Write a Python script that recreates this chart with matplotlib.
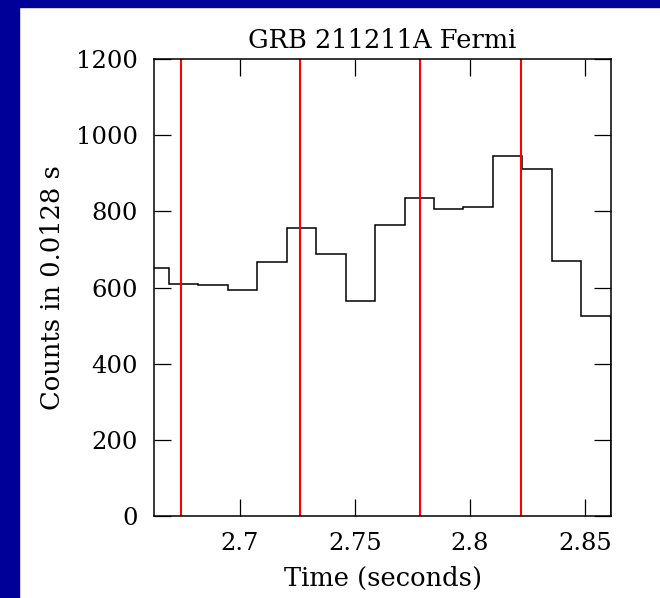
import matplotlib
matplotlib.use('Agg')
import matplotlib.pyplot as plt
from matplotlib.patches import Rectangle
import numpy as np

# light curve, 0.0128 s bins
bin_width = 0.0128
first_bin_start = 2.6564
counts = [652, 610, 607, 593, 666, 756, 689, 565, 764, 835, 806, 813, 945, 911, 671, 526]
# vertical marker times (s)
marker_times = [2.6746, 2.7263, 2.7781, 2.8222]

x_ticks = [2.7, 2.75, 2.8, 2.85]
x_tick_labels = ['2.7', '2.75', '2.8', '2.85']
y_ticks = [0, 200, 400, 600, 800, 1000, 1200]

edges = first_bin_start + bin_width * np.arange(len(counts) + 1)

plt.rcParams['font.family'] = ['DejaVu Serif']
fs = 17.5  # tick labels
fs_lab = 18.5  # title and axis labels

fig = plt.figure(figsize=(6.6, 5.98), dpi=100)
fig.patch.set_facecolor('white')
# navy frame (top and left)
navy = '#000099'
fig.patches.append(Rectangle((0, 1 - 7 / 598), 1, 7 / 598, transform=fig.transFigure,
                             color=navy, zorder=0))
fig.patches.append(Rectangle((0, 0), 18.5 / 660, 1, transform=fig.transFigure,
                             color=navy, zorder=0))

ax = fig.add_axes([0.2338, 0.1376, 0.6915, 0.7632])
ax.stairs(counts, edges, color='black', linewidth=1.1)
for t in marker_times:
    ax.axvline(t, color='red', linewidth=1.5)

ax.set_xlim(2.6628, 2.8612)
ax.set_ylim(0, 1200)
ax.set_xticks(x_ticks)
ax.set_xticklabels(x_tick_labels)
ax.set_yticks(y_ticks)
ax.tick_params(direction='in', length=12.5, width=0.9, top=True, right=True,
               labelsize=fs, color='black')
ax.tick_params(axis='y', pad=12)
ax.tick_params(axis='x', pad=11.5)
for s in ax.spines.values():
    s.set_linewidth(1.1)

ax.set_title('GRB 211211A Fermi', fontsize=fs_lab, pad=7.9)
ax.set_xlabel('Time (seconds)', fontsize=fs_lab, labelpad=8)
ax.set_ylabel('Counts in 0.0128 s', fontsize=fs_lab, labelpad=8)

fig.savefig('out.png', dpi=100)
